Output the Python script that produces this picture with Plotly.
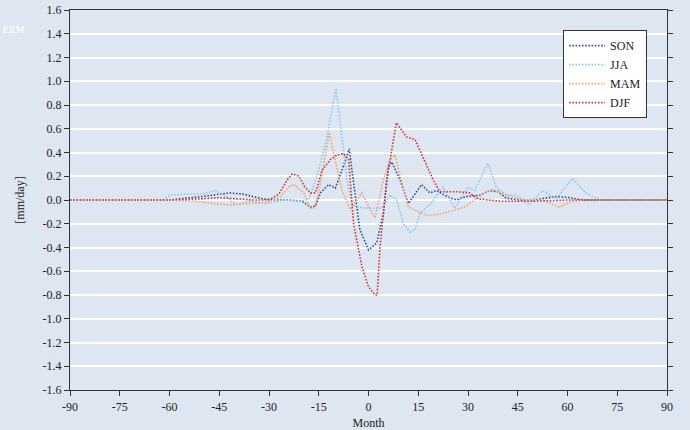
import plotly.graph_objects as go

# ---- data ----
son_x = [-90, -60, -50, -45, -42, -38, -32, -28, -24, -20, -17.5, -16, -14.5, -12, -10, -8, -5.8, -5, -2.6, 0, 2.5, 4.5, 6, 7, 9.5, 12, 16, 18.5, 20.5, 23.5, 26.5, 29.5, 33.5, 36.5, 39, 41.5, 45.5, 50, 56.5, 60.5, 65, 90]
son_y = [0, 0, 0.03, 0.05, 0.06, 0.05, 0.01, 0, 0, -0.01, -0.06, -0.05, 0.06, 0.13, 0.10, 0.25, 0.43, 0.25, -0.25, -0.42, -0.36, -0.11, 0.28, 0.32, 0.17, -0.03, 0.13, 0.06, 0.08, 0.03, 0, 0.03, 0.04, 0.08, 0.07, 0.015, 0, 0, 0.03, 0.02, 0, 0]

jja_x = [-90, -62, -60, -55, -50, -46, -43, -40, -35.5, -30.5, -25.5, -20.5, -18, -15.5, -12.5, -9.8, -8, -6.5, -5, -3.5, 0.5, 4, 6.5, 8.5, 10.5, 12.5, 14, 15.5, 18.5, 22.5, 26, 30, 32, 36, 38.5, 41.5, 44.5, 48.5, 52.5, 56.5, 61.5, 65.5, 70, 90]
jja_y = [0, 0, 0.04, 0.05, 0.05, 0.08, 0.03, -0.04, -0.01, -0.03, 0, -0.01, 0.01, 0.2, 0.53, 0.94, 0.53, 0.17, -0.03, -0.06, -0.07, -0.07, 0.04, 0, -0.2, -0.27, -0.25, -0.11, -0.04, 0.11, -0.07, 0.11, 0.08, 0.31, 0.11, 0.04, 0.04, -0.04, 0.08, 0.01, 0.18, 0.06, 0, 0]

mam_x = [-90, -60, -52, -47, -42, -34, -30.5, -26.5, -24, -22.5, -19.5, -17.5, -16, -14.5, -11.8, -10.5, -8, -5.5, -3.5, -2, 0.5, 2, 4.5, 6.5, 8, 9.5, 12, 17.5, 21.5, 26.5, 29, 32.5, 35.5, 37.5, 41.5, 46.5, 52.5, 57.5, 61.5, 66, 90]
mam_y = [0, 0, -0.01, -0.03, -0.04, -0.03, -0.02, 0.03, 0.11, 0.13, 0.06, -0.07, -0.06, 0.14, 0.57, 0.39, 0.08, -0.08, 0, 0.06, -0.08, -0.15, 0.17, 0.34, 0.38, 0.2, -0.06, -0.13, -0.12, -0.08, -0.06, 0.01, 0.07, 0.09, 0.04, 0, 0, -0.06, -0.01, 0, 0]

djf_x = [-90, -60, -50, -45, -40, -35, -30, -27, -24.5, -23, -21, -19.2, -17.5, -16, -14, -11.5, -9.5, -7.5, -6, -4.5, -2, 0, 2, 2.6, 3.5, 4, 5.5, 8.4, 11.5, 14, 16.5, 19.5, 21.5, 26.5, 30.5, 33, 36, 40, 50, 60, 70, 90]
djf_y = [0, 0, 0.01, 0.02, 0.01, 0, 0, 0.05, 0.17, 0.22, 0.2, 0.11, 0.06, 0.06, 0.25, 0.34, 0.38, 0.39, 0.34, -0.2, -0.56, -0.73, -0.8, -0.8, -0.39, -0.25, 0.17, 0.65, 0.53, 0.51, 0.36, 0.17, 0.07, 0.07, 0.06, 0.01, 0, -0.01, -0.01, 0, 0, 0]

series_names = ["SON", "JJA", "MAM", "DJF"]
series_colors = ["#345291", "#8ac8f0", "#f4a070", "#cc3a3a"]
x_ticks = [-90, -75, -60, -45, -30, -15, 0, 15, 30, 45, 60, 75, 90]
y_ticks = [round(-1.6 + 0.2 * i, 1) for i in range(17)]

BG = "#dde6f1"
FONT = "Liberation Serif, Times New Roman, serif"
TXT = "#222222"

fig = go.Figure()
for name, xs, ys, col in zip(series_names, [son_x, jja_x, mam_x, djf_x],
                             [son_y, jja_y, mam_y, djf_y], series_colors):
    fig.add_trace(go.Scatter(x=xs, y=ys, name=name, mode="lines",
                             line=dict(color=col, width=1.6, dash="1.6px,1.6px")))

axis_common = dict(showline=True, linecolor="#333333", linewidth=1.2,
                   ticks="outside", ticklen=5, tickcolor="#333333", zeroline=False,
                   automargin=False,
                   tickfont=dict(family=FONT, size=12, color=TXT))

fig.update_xaxes(range=[-90, 90], tickvals=x_ticks,
                 ticktext=[str(v) for v in x_ticks], showgrid=False, mirror=True,
                 title=dict(text="Month", font=dict(family=FONT, size=12, color=TXT)),
                 **axis_common)
fig.update_yaxes(range=[-1.6, 1.6], tickvals=y_ticks,
                 ticktext=[f"{v:.1f}" for v in y_ticks], showgrid=True,
                 gridcolor="#ffffff", gridwidth=1.5, mirror="ticks",
                 title=dict(text="[mm/day]", font=dict(family=FONT, size=12, color=TXT)),
                 **axis_common)

fig.update_layout(
    width=690, height=430,
    margin=dict(l=70, r=23, t=10, b=40, autoexpand=False),
    paper_bgcolor=BG, plot_bgcolor=BG,
    font=dict(family=FONT, size=12, color=TXT),
    legend=dict(x=0.826, y=0.947, xanchor="left", yanchor="top",
                bgcolor="#ffffff", bordercolor="#333333", borderwidth=1,
                font=dict(family=FONT, size=12, color=TXT),
                itemwidth=36, tracegroupgap=0),
    showlegend=True,
)
fig.add_annotation(text="ERM", xref="paper", yref="paper", x=-0.115, y=0.95,
                   xanchor="left", yanchor="middle", showarrow=False,
                   font=dict(family=FONT, size=10, color="#ffffff"))

fig.write_html("out.html")
